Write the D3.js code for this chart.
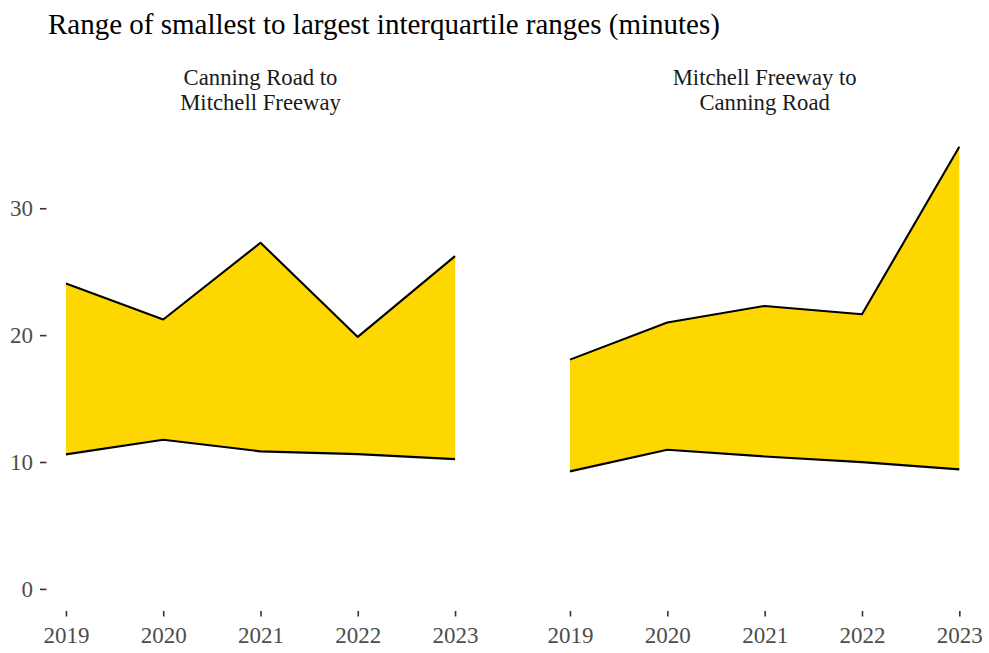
<!DOCTYPE html>
<html><head><meta charset="utf-8">
<script src="https://cdn.jsdelivr.net/npm/d3@7"></script>
<style>body{margin:0;background:#fff}</style>
</head><body>
<svg id="chart" width="989" height="653"></svg>
<script>
const years = [2019, 2020, 2021, 2022, 2023];
const panels = ["Canning Road to\nMitchell Freeway", "Mitchell Freeway to\nCanning Road"];
const lowerCM = [10.6, 11.76, 10.84, 10.62, 10.23];
const upperCM = [24.07, 21.23, 27.28, 19.86, 26.23];
const lowerMC = [9.26, 10.97, 10.44, 9.99, 9.42];
const upperMC = [18.07, 21.0, 22.3, 21.65, 34.85];
const yTicks = [0, 10, 20, 30];
const title = "Range of smallest to largest interquartile ranges (minutes)";

const series = [
  {name: panels[0], lower: lowerCM, upper: upperCM},
  {name: panels[1], lower: lowerMC, upper: upperMC}
];

const svg = d3.select("#chart");
const font = "'Liberation Serif', 'Times New Roman', serif";
const panelTop = 124.6, panelBottom = 611;
const panelX = [[46.5, 474.5], [550.5, 978.8]];

const allMax = d3.max(series, s => d3.max(s.upper));
const y = d3.scaleLinear().domain([0 - allMax * 0.05, allMax * 1.05]).range([panelBottom, panelTop]);

svg.append("text").attr("x", 48).attr("y", 34)
  .attr("font-family", font).attr("font-size", 29).attr("fill", "#000").text(title);

series.forEach((s, i) => {
  const x = d3.scaleLinear().domain([2019 - 0.2, 2023 + 0.2]).range(panelX[i]);
  const g = svg.append("g");
  const data = years.map((yr, k) => ({yr, lo: s.lower[k], hi: s.upper[k]}));
  g.append("path").datum(data)
    .attr("fill", "#FFD700")
    .attr("d", d3.area().x(d => x(d.yr)).y0(d => y(d.lo)).y1(d => y(d.hi)));
  ["lo", "hi"].forEach(k => {
    g.append("path").datum(data).attr("fill", "none").attr("stroke", "#000")
      .attr("stroke-width", 2.1).attr("stroke-linejoin", "round")
      .attr("d", d3.line().x(d => x(d.yr)).y(d => y(d[k])));
  });
  // x axis
  const xa = svg.append("g").attr("transform", `translate(0,${panelBottom})`)
    .call(d3.axisBottom(x).tickValues(years).tickFormat(d3.format("d")).tickSize(5.5).tickPadding(10));
  xa.select(".domain").remove();
  xa.selectAll("line").attr("stroke", "#333").attr("stroke-width", 1.6);
  xa.selectAll("text").attr("font-family", font).attr("font-size", 23).attr("fill", "#4d4d4d");
  // strip
  const cx = (panelX[i][0] + panelX[i][1]) / 2;
  const lines = s.name.split("\n");
  const st = svg.append("text").attr("text-anchor", "middle")
    .attr("font-family", font).attr("font-size", 22.7).attr("fill", "#1a1a1a");
  lines.forEach((l, j) => st.append("tspan").attr("x", cx).attr("y", 85 + j * 24.5).text(l));
});

const ya = svg.append("g").attr("transform", `translate(${panelX[0][0]},0)`)
  .call(d3.axisLeft(y).tickValues(yTicks).tickSize(6.5).tickPadding(7));
ya.select(".domain").remove();
ya.selectAll("line").attr("stroke", "#333").attr("stroke-width", 1.6);
ya.selectAll("text").attr("font-family", font).attr("font-size", 23).attr("fill", "#4d4d4d");
</script>
</body></html>
